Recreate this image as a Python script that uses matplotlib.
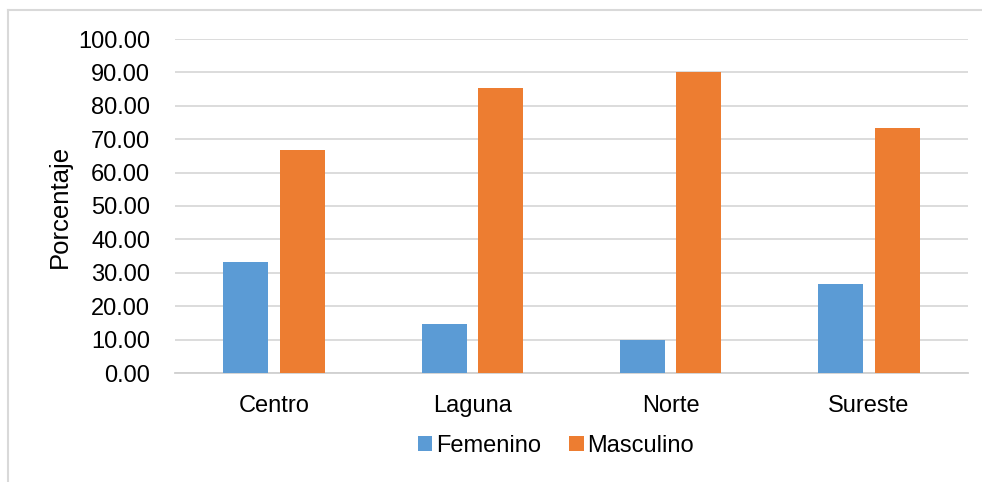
import matplotlib
matplotlib.use("Agg")
import matplotlib.pyplot as plt
from matplotlib.lines import Line2D
import numpy as np

plt.rcParams['font.family'] = ['Liberation Sans', 'DejaVu Sans']

categories = ["Centro", "Laguna", "Norte", "Sureste"]
femenino = [33.33, 14.81, 10.00, 26.67]
masculino = [66.67, 85.19, 90.00, 73.33]
yticks = [0, 10, 20, 30, 40, 50, 60, 70, 80, 90, 100]

W, H = 982, 482
fig = plt.figure(figsize=(W / 100, H / 100), dpi=100)
ax = fig.add_axes([175 / W, (H - 373) / H, (968 - 175) / W, (373 - 39) / H])

x = np.arange(len(categories))
bw = 0.227
off = 0.143
ax.bar(x - off, femenino, bw, color="#5B9BD5", label="Femenino", zorder=3)
ax.bar(x + off, masculino, bw, color="#ED7D31", label="Masculino", zorder=3)

ax.set_xlim(-0.5, len(categories) - 0.5)
ax.set_ylim(0, 100)
ax.set_yticks(yticks)
ax.set_yticklabels([f"{v:.2f}" for v in yticks], fontsize=17)
ax.set_xticks(x)
ax.set_xticklabels(categories, fontsize=17)
ax.tick_params(axis="both", length=0)
ax.tick_params(axis="y", pad=18)
ax.tick_params(axis="x", pad=16)
ax.grid(axis="y", color="#d9d9d9", linewidth=1.3, zorder=0)
for s in ["top", "right", "left"]:
    ax.spines[s].set_visible(False)
ax.spines["bottom"].set_color("#d0d0d0")
ax.spines["bottom"].set_linewidth(1.3)
ax.set_ylabel("Porcentaje", fontsize=18.5, labelpad=4)

ax.legend(loc="center", bbox_to_anchor=((556 - 175) / (968 - 175), -(446 - 373) / (373 - 39)),
          ncol=2, frameon=False, fontsize=17, handlelength=0.6, handleheight=0.6,
          handletextpad=0.15, columnspacing=1.2)

# outer chart border (top and left visible)
fig.add_artist(Line2D([8 / W, 1], [1 - 10 / H, 1 - 10 / H], color="#d9d9d9", linewidth=1.5))
fig.add_artist(Line2D([8 / W, 8 / W], [0, 1 - 10 / H], color="#d9d9d9", linewidth=1.5))

fig.savefig("out.png", dpi=100)
